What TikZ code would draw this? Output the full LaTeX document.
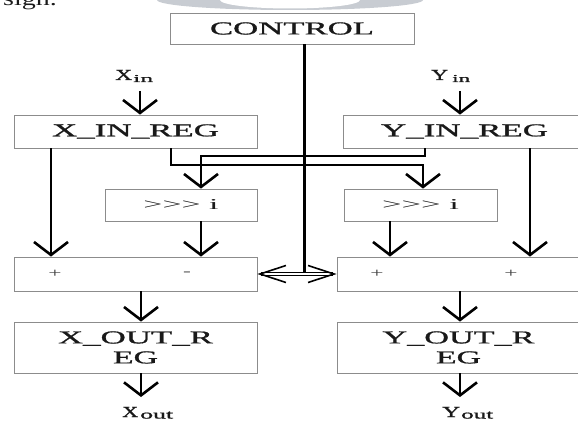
\documentclass[tikz,border=0pt]{standalone}
\usepackage{fontspec}
\setmainfont{Liberation Serif}
\newfontfamily\thk[FakeBold=0.9]{Liberation Serif}
\usepackage{graphicx}
\usetikzlibrary{arrows.meta}
\newcommand\rsz[3]{\resizebox{#1}{#2}{#3}}
\definecolor{wmark}{RGB}{200,204,210}
\begin{document}
\begin{tikzpicture}[x=1pt,y=-1pt,
  box/.style={draw=black!45, line width=0.8pt, inner sep=0pt, text=black!90, font=\thk},
  big/.style={box, minimum width=243pt},
  lbl/.style={inner sep=0pt, anchor=base west, text=black!90, font=\thk},
  sym/.style={inner sep=0pt, text=black!75, font=\fontsize{13}{13}\selectfont},
  arr/.style={line width=2.6pt, -{Straight Barb[length=13pt,width=34pt,line width=2.6pt]}},
  link/.style={line width=2pt, -{Straight Barb[length=13pt,width=34pt,line width=2.6pt]}},
  ctl/.style={line width=3pt},
  dbl/.style={double=white, double distance=1.6pt, line width=0.8pt,
    {Straight Barb[length=26pt,width=17pt,line width=1.6pt]}-{Straight Barb[length=26pt,width=17pt,line width=1.6pt]}}]
\useasboundingbox (0,0) rectangle (578,422);
\clip (0,0) rectangle (578,422);
% faded watermark
\fill[wmark] (290,0) ellipse [x radius=133pt, y radius=10pt];
\fill[white] (290,0) ellipse [x radius=70pt, y radius=8.5pt];
\node[lbl, font=\fontsize{20}{20}\selectfont] (sgn) at (3,6) {\scalebox{1.4}[1]{sign.}};
% boxes
\node[box, minimum width=244pt, minimum height=31pt] (control) at (292,28.5) {\rsz{164pt}{12pt}{CONTROL}};
\node[big, minimum height=33pt] (xinreg) at (135.5,131.5) {\rsz{167pt}{12pt}{X\_IN\_REG}};
\node[big, minimum height=33pt] (yinreg) at (464.5,131.5) {\rsz{167pt}{12pt}{Y\_IN\_REG}};
\node[box, minimum width=152pt, minimum height=32pt, font=\rmfamily] (xshift) at (181,205) {\rsz{75pt}{10pt}{>{}>{}> i}};
\node[box, minimum width=153pt, minimum height=32pt, font=\rmfamily] (yshift) at (420.5,205) {\rsz{77pt}{10pt}{>{}>{}> i}};
\node[big, minimum height=34pt] (xadd) at (135.5,274) {};
\node[big, minimum height=34pt] (yadd) at (458.5,274) {};
\node[sym] (xplus) at (55,274) {\scalebox{1.8}[1]{+}};
\node[sym] (xminus) at (187,274) {\scalebox{1.8}[1]{-}};
\node[sym] (yplus1) at (377,274) {\scalebox{1.8}[1]{+}};
\node[sym] (yplus2) at (511,274) {\scalebox{1.8}[1]{+}};
\node[big, minimum height=51pt, align=center, font=\thk\fontsize{12}{20}\selectfont] (xout) at (135.5,347.5) {\rsz{155pt}{12pt}{X\_OUT\_R}\\\rsz{45pt}{12pt}{EG}};
\node[big, minimum height=51pt, align=center, font=\thk\fontsize{12}{20}\selectfont] (yout) at (458.5,347.5) {\rsz{152pt}{12pt}{Y\_OUT\_R}\\\rsz{45pt}{12pt}{EG}};
% in/out labels
\node[lbl] (xinlbl) at (115,80) {\rsz{17pt}{10pt}{X}\hspace{1pt}\raisebox{-2pt}{\rsz{20pt}{7pt}{in}}};
\node[lbl] (yinlbl) at (431,80) {\rsz{17pt}{10pt}{Y}\hspace{4pt}\raisebox{-2pt}{\rsz{18pt}{7pt}{in}}};
\node[lbl] (xoutlbl) at (122,417) {\rsz{16pt}{10pt}{X}\hspace{2pt}\raisebox{-1.5pt}{\rsz{33pt}{7pt}{out}}};
\node[lbl] (youtlbl) at (442,417) {\rsz{18pt}{10pt}{Y}\hspace{1pt}\raisebox{-1.5pt}{\rsz{32pt}{7pt}{out}}};
% column coordinates
\coordinate (c51) at (51,0);
\coordinate (c141) at (141,0);
\coordinate (c171) at (171,0);
\coordinate (c201) at (201,0);
\coordinate (c304) at (304,0);
\coordinate (c390) at (390,0);
\coordinate (c423) at (423,0);
\coordinate (c425) at (425,0);
\coordinate (c460) at (460,0);
\coordinate (c530) at (530,0);
\coordinate (xie) at (140,91);
\coordinate (yie) at (460,91);
\coordinate (xoe) at (141,397);
\coordinate (yoe) at (460,397);
% connectors
\draw[arr] (xie) -- (xinreg.north -| xie);
\draw[arr] (yie) -- (yinreg.north -| yie);
\draw[arr] (xinreg.south -| c51) -- (xadd.north -| c51);
\draw[arr] (yinreg.south -| c530) -- (yadd.north -| c530);
\draw[link] (yinreg.south -| c425) -- ++(0,8) -| (xshift.north -| c201);
\draw[link] (xinreg.south -| c171) -- ++(0,17) -| (yshift.north -| c423);
\draw[arr] (xshift.south -| c201) -- (xadd.north -| c201);
\draw[arr] (yshift.south -| c390) -- (yadd.north -| c390);
\draw[ctl] (control.south -| c304) -- (xadd.east -| c304);
\draw[dbl] (xadd.east) -- (yadd.west);
\draw[arr] (xadd.south -| c141) -- (xout.north -| c141);
\draw[arr] (xout.south -| c141) -- (xoe);
\draw[arr] (yadd.south -| c460) -- (yout.north -| c460);
\draw[arr] (yout.south -| c460) -- (yoe);
\end{tikzpicture}
\end{document}
